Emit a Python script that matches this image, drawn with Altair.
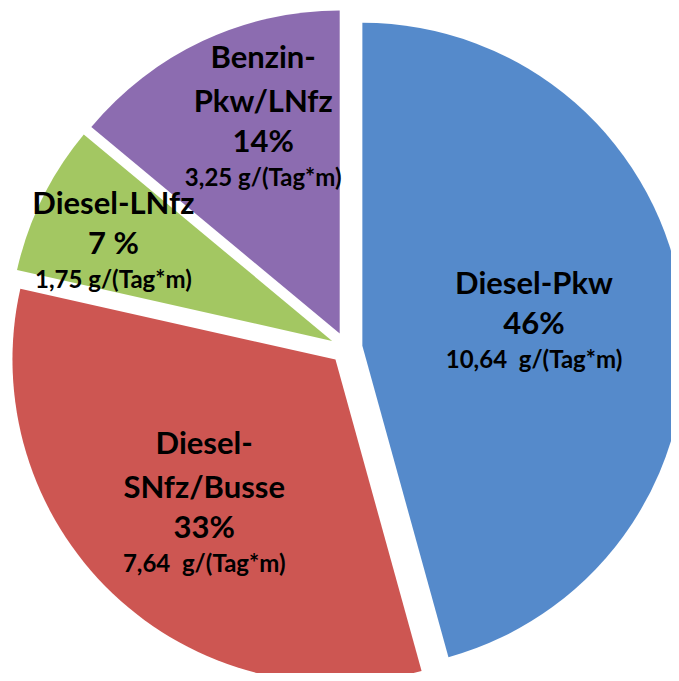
import math
import altair as alt

# ---- data ----
categories = ["Diesel-Pkw", "Diesel-SNfz/Busse", "Diesel-LNfz", "Benzin-Pkw/LNfz"]
name_lines = [["Diesel-Pkw"], ["Diesel-", "SNfz/Busse"], ["Diesel-LNfz"], ["Benzin-", "Pkw/LNfz"]]
values = [10.64, 7.64, 1.75, 3.25]
percent_labels = ["46%", "33%", "7 %", "14%"]
amount_labels = ["10,64\u00a0 g/(Tag*m)", "7,64\u00a0 g/(Tag*m)", "1,75 g/(Tag*m)", "3,25 g/(Tag*m)"]
colors = ["#558ACB", "#CD5652", "#A3C762", "#8C6CB0"]

# ---- layout / style ----
W, H = 663, 665
CX, CY = 338.5, 340.0
R = 323
EXPLODE = 16
BIG, SMALL = 31, 24
NAME_LH, NAME_TO_PCT, PCT_TO_AMT = 44, 40, 34
CAP, DESC = 0.72 * BIG, 5
FONT = "Lato"
# small angular nudges of label blocks (degrees), like manually placed data labels
LABEL_NUDGE_DEG = {"Diesel-SNfz/Busse": -1.5, "Diesel-LNfz": -1.9, "Benzin-Pkw/LNfz": 5.6}

records = [
    {"order": i, "category": c, "name": n, "nlines": len(n), "value": v,
     "pct": p, "amount": a, "nudge": math.radians(LABEL_NUDGE_DEG.get(c, 0.0))}
    for i, (c, n, v, p, a) in enumerate(zip(categories, name_lines, values, percent_labels, amount_labels))
]

base = (
    alt.Chart(alt.Data(values=records))
    .transform_joinaggregate(total="sum(value)")
    .transform_window(cum="sum(value)", sort=[alt.SortField("order")], frame=[None, 0])
    .transform_calculate(frac="datum.value / datum.total")
    .transform_calculate(t0="2 * PI * (datum.cum - datum.value) / datum.total")
    .transform_calculate(t1="2 * PI * datum.cum / datum.total")
    .transform_calculate(mid="(datum.t0 + datum.t1) / 2")
    .transform_calculate(cx=f"{CX} + {EXPLODE} * sin(datum.mid)")
    .transform_calculate(cy=f"{CY} - {EXPLODE} * cos(datum.mid)")
    .transform_calculate(lr=f"{R} * (0.784 - 0.542 * datum.frac)")
    .transform_calculate(la="datum.mid + datum.nudge")
    .transform_calculate(lx="datum.cx + datum.lr * sin(datum.la)")
    .transform_calculate(ly="datum.cy - datum.lr * cos(datum.la)")
    .transform_calculate(
        pct_y=f"datum.ly + ({CAP} + {NAME_TO_PCT} + {NAME_LH} * (datum.nlines - 1) - {PCT_TO_AMT} - {DESC}) / 2"
    )
    .transform_calculate(name_y=f"datum.pct_y - {NAME_TO_PCT} - {NAME_LH} * (datum.nlines - 1)")
    .transform_calculate(amt_y=f"datum.pct_y + {PCT_TO_AMT}")
)

arcs = base.mark_arc(radius=R, clip=True).encode(
    x=alt.X("cx:Q", scale=None, axis=None),
    y=alt.Y("cy:Q", scale=None, axis=None),
    theta=alt.Theta("t0:Q", scale=None, stack=False),
    theta2="t1:Q",
    color=alt.Color("category:N", scale=alt.Scale(domain=categories, range=colors), legend=None),
)

text_common = dict(font=FONT, fontWeight="bold", align="center", baseline="alphabetic", color="#000000")

names = base.mark_text(fontSize=BIG, lineHeight=NAME_LH, **text_common).encode(
    x=alt.X("lx:Q", scale=None, axis=None),
    y=alt.Y("name_y:Q", scale=None, axis=None),
    text=alt.Text("name:N"),
)
pcts = base.mark_text(fontSize=BIG, **text_common).encode(
    x=alt.X("lx:Q", scale=None, axis=None),
    y=alt.Y("pct_y:Q", scale=None, axis=None),
    text=alt.Text("pct:N"),
)
amounts = base.mark_text(fontSize=SMALL, **text_common).encode(
    x=alt.X("lx:Q", scale=None, axis=None),
    y=alt.Y("amt_y:Q", scale=None, axis=None),
    text=alt.Text("amount:N"),
)

chart = (
    alt.layer(arcs, names, pcts, amounts)
    .properties(width=W, height=H, padding=0, autosize=alt.AutoSizeParams(type="none"), background="white")
    .configure_view(strokeWidth=0)
)

chart.save("out.html", embed_options={"renderer": "svg", "actions": False})
